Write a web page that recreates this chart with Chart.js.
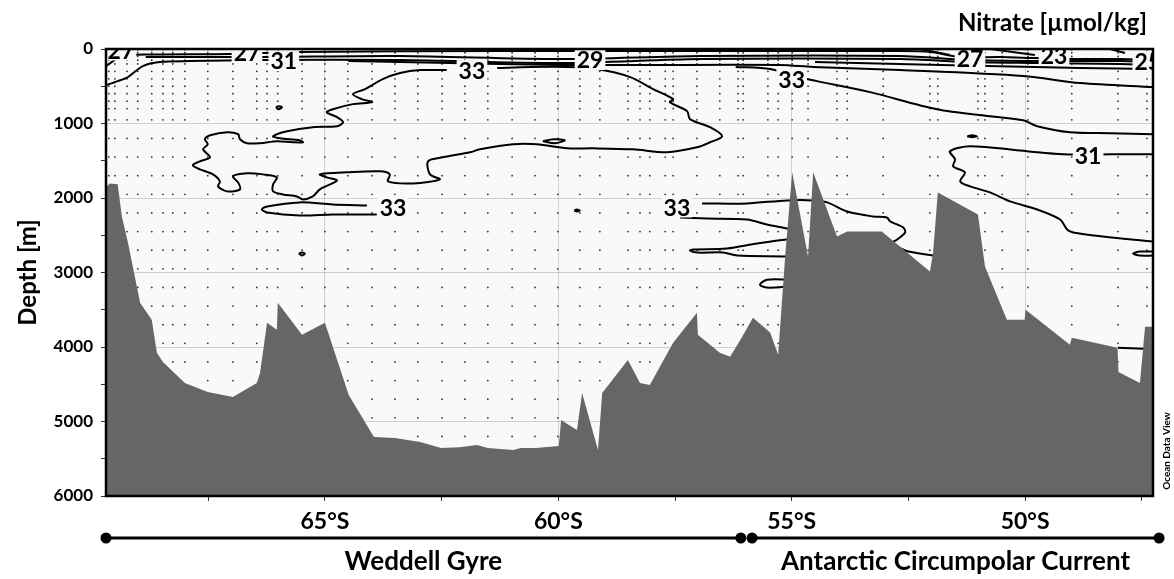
<!DOCTYPE html>
<html>
<head>
<meta charset="utf-8">
<script src="https://cdn.jsdelivr.net/npm/chart.js@4.4.1/dist/chart.umd.min.js"></script>
<style>
  html, body { margin: 0; padding: 0; background: #fff; }
  #wrap { width: 1174px; height: 579px; position: relative; }
</style>
</head>
<body>
<div id="wrap"><canvas id="section"></canvas></div>
<script>
// axes (latitude in degrees south, depth in metres)
var latTicks = [47.5, 50, 52.5, 55, 57.5, 60, 62.5, 65, 67.5];
var depthTicks = [0, 500, 1000, 1500, 2000, 2500, 3000, 3500, 4000, 4500, 5000, 5500, 6000];

// sea floor along the section
var bottomLat = [69.69,69.61,69.44,69.35,69.22,68.96,68.71,68.60,68.47,68.00,67.51,66.97,66.46,66.39,66.24,66.03,66.01,65.49,65.00,64.49,63.95,63.50,62.96,62.51,62.11,61.74,61.51,60.97,60.80,60.48,59.99,59.94,59.60,59.49,59.15,59.06,58.51,58.25,58.04,57.54,57.03,57.01,56.54,56.32,56.06,55.83,55.53,55.46,55.29,55.14,54.99,54.65,54.54,54.03,53.81,53.07,52.04,51.97,51.87,51.01,50.86,50.39,50.01,49.99,49.04,49.00,48.02,48.00,47.54,47.43,47.26];
var bottomDepth = [1857,1804,1817,2248,2598,3405,3634,4078,4200,4482,4603,4671,4482,4348,3675,3769,3405,3836,3675,4644,5209,5222,5276,5357,5344,5317,5357,5384,5357,5357,5330,4980,5115,4617,5384,4617,4173,4482,4509,3944,3540,3836,4078,4132,3863,3607,3769,3809,4105,2786,1656,2786,1656,2517,2450,2450,2988,2732,1925,2221,2921,3634,3634,3500,3971,3876,4011,4334,4482,3728,3728];

// stations and their sample levels
var stationLat = [69.63,69.50,69.24,69.01,68.71,68.47,68.26,68.00,67.51,66.97,66.46,66.24,66.01,65.49,65.00,64.51,63.99,63.50,63.01,62.49,62.00,61.51,60.99,60.50,60.01,59.54,59.11,58.51,58.25,58.04,57.71,57.54,57.03,56.54,56.15,56.04,55.51,55.29,54.99,54.65,54.03,53.81,53.04,52.04,51.87,51.01,50.86,50.49,49.94,49.00,48.01,47.39];
var stationBottom = [1800,1800,2500,3300,3600,4150,4300,4450,4600,4650,4450,3650,3400,3800,3650,4600,5200,5200,5250,5300,5300,5300,5350,5330,5300,4600,4600,4150,4450,4450,4150,3900,3500,4050,3850,3850,3750,4100,1650,2750,2500,2450,2450,2950,1900,2200,2900,3450,3600,3850,4300,3700];
var sampleDepths = [10,50,100,150,200,300,400,500,600,700,800,950,1200,1450,1700,1950,2200,2450,2700,2950,3200,3450,3700,3950,4200,4450,4700,4950,5200];

// nitrate isolines, [lat, depth]
var iso27 = [[69.69,229],[69.54,162],[69.39,94],[68.75,74],[67.04,67],[65.54,40],[61.25,27],[56.96,27],[52.68,27],[52.02,40],[51.39,108],[50.54,108],[49.79,121],[48.82,135],[47.97,135],[47.26,148]];
var iso29 = [[68.84,108],[66.39,108],[63.39,94],[59.96,135],[56.96,94],[52.68,94],[51.18,148],[49.79,162],[47.97,162],[47.26,175]];
var iso31 = [[69.69,485],[69.44,431],[69.22,377],[68.90,229],[68.54,175],[67.89,162],[66.39,148],[63.39,148],[59.96,188],[56.96,135],[52.68,135],[51.18,175],[49.79,188],[47.97,202],[47.26,215]];
var iso32 = [[64.5,160],[63.39,175],[61.25,202],[59.96,215],[58.25,215],[55.25,215],[54.54,242],[52.68,283],[50.04,363],[48.82,458],[47.26,511]];
var iso30e = [[54.5,175],[51.82,215],[49.79,242],[48.82,256],[47.26,269]];
var iso25a = [[52.25,0],[51.61,81]];
var iso25b = [[50.75,0],[49.79,81]];
var iso23 = [[48.18,0],[47.86,54]];
var iso33e = [[56.2,240],[55.46,269],[54.97,363],[54.46,431],[53.32,579],[51.89,808],[50.75,902],[50.04,956],[49.74,1036],[49.04,1117],[48.18,1131],[47.26,1144]];
var iso33blob = [[62.39,283],[62.96,283],[63.39,323],[63.76,404],[64.14,538],[64.40,606],[64.21,673],[63.99,713],[64.40,740],[64.83,808],[64.96,848],[64.74,915],[64.61,983],[64.74,1036],[65.26,1050],[65.81,1104],[66.11,1171],[65.96,1198],[65.54,1225],[65.47,1252],[65.69,1252],[66.03,1238],[66.39,1265],[66.67,1265],[66.82,1211],[66.86,1144],[67.10,1117],[67.46,1158],[67.57,1211],[67.51,1279],[67.61,1346],[67.46,1454],[67.68,1508],[67.83,1561],[67.68,1615],[67.40,1683],[67.25,1777],[67.29,1844],[67.10,1911],[66.82,1884],[66.86,1790],[66.97,1709],[66.67,1669],[66.33,1683],[66.03,1723],[66.11,1817],[66.11,1911],[65.90,1952],[65.60,1979],[65.47,2019],[65.26,1979],[65.11,1884],[64.89,1817],[64.74,1763],[64.96,1723],[65.11,1683],[64.53,1656],[63.82,1642],[63.61,1683],[63.65,1777],[63.11,1804],[62.54,1750],[62.75,1683],[62.79,1508],[62.47,1454],[61.89,1386],[61.68,1346],[60.97,1279],[60.46,1279],[59.81,1333],[59.26,1333],[58.40,1346],[57.67,1386],[57.03,1319],[56.75,1252],[56.49,1171],[56.75,1050],[57.18,942],[57.24,835],[57.61,713],[57.54,673],[57.97,538],[58.46,377],[59.17,269],[59.81,242],[60.61,242],[61.31,256]];
var iso31e = [[47.26,1413],[48.12,1413],[49.19,1413],[49.96,1373],[51.18,1306],[51.61,1373],[51.50,1481],[51.54,1575],[51.29,1656],[51.39,1777],[51.18,1844],[50.75,1925],[50.32,2046],[49.74,2154],[49.25,2288],[49.10,2423],[48.97,2463],[48.33,2517],[47.26,2584]];
var iso33w = [[64.10,2100],[64.83,2086],[65.54,2059],[66.24,2113],[66.35,2154],[66.24,2194],[65.54,2234],[64.83,2221],[63.89,2221]];
var iso33a = [[56.92,2073],[55.96,2073],[55.10,2032],[54.54,2032],[54.24,2059],[53.81,2181],[53.26,2248],[52.96,2261],[52.89,2315],[52.61,2396],[52.57,2463],[52.74,2557],[52.83,2598],[52.57,2705],[51.97,2773],[51.72,2800]];
var iso33b = [[57.39,2261],[56.81,2275],[55.96,2288],[55.53,2356],[55.10,2409],[54.82,2450]];
var iso33c = [[54.82,2557],[55.10,2557],[55.74,2611],[56.39,2679],[57.11,2692],[57.18,2705],[57.03,2732],[56.47,2732],[56.17,2773],[55.10,2786],[54.82,2800]];
var iso33d = [[55.04,3096],[55.53,3096],[55.68,3163],[55.53,3203],[55.04,3190]];
var iso33deep = [[48.01,4011],[47.47,4025]];
var eddyA = [[66.05,781],[65.99,767],[65.92,781],[65.99,808],[66.05,781]];
var eddyB = [[65.56,2746],[65.49,2732],[65.43,2746],[65.49,2773],[65.56,2746]];
var eddyC = [[60.33,1238],[60.11,1211],[59.86,1225],[60.07,1265],[60.33,1238]];
var eddyD = [[59.66,2167],[59.60,2154],[59.54,2167],[59.60,2181],[59.66,2167]];
var eddyE = [[51.24,1171],[51.14,1158],[51.03,1171],[51.14,1184],[51.24,1171]];
var eddyF = [[47.26,2719],[47.54,2719],[47.69,2746],[47.54,2773],[47.26,2773]];

// isoline labels
var labelText = ['27', '27', '31', '33', '29', '33', '27', '23', '25', '31', '33', '33'];
var labelLat = [69.37, 66.67, 65.88, 61.85, 59.32, 55.00, 51.18, 49.38, 47.37, 48.65, 63.54, 57.46];
var labelDepth = [20, 47, 162, 283, 148, 404, 135, 87, 175, 1427, 2127, 2127];

// regions under the section
var regionNames = ['Weddell Gyre', 'Antarctic Circumpolar Current'];
var regionStart = [69.69, 55.85];
var regionEnd = [56.09, 47.13];

var plotBg = '#f9f9f9';
var isolines = [iso27, iso29, iso31, iso32, iso30e, iso25a, iso25b, iso23, iso33e, iso33blob, iso31e,
  iso33w, iso33a, iso33b, iso33c, iso33d, iso33deep, eddyA, eddyB, eddyC, eddyD, eddyE, eddyF];

var samplePts = [];
stationLat.forEach(function (lat, i) {
  sampleDepths.forEach(function (d) {
    if (d < stationBottom[i]) samplePts.push({x: lat, y: d});
  });
});

var datasets = [{
  label: 'Bottom',
  data: bottomLat.map(function (v, i) { return {x: v, y: bottomDepth[i]}; }),
  fill: {value: 6000},
  backgroundColor: '#666666',
  borderColor: '#666666',
  borderWidth: 0,
  pointRadius: 0,
  tension: 0,
  order: 0
}];
isolines.forEach(function (line, k) {
  datasets.push({
    label: 'Nitrate ' + k,
    data: line.map(function (p) { return {x: p[0], y: p[1]}; }),
    borderColor: '#000',
    borderWidth: 2,
    pointRadius: 0,
    fill: false,
    tension: 0.3,
    order: 1
  });
});
datasets.push({
  label: 'Samples',
  data: samplePts,
  showLine: false,
  pointRadius: 0.9,
  pointBorderWidth: 0,
  pointBackgroundColor: '#333',
  order: 2
});

var decor = {
  id: 'decor',
  beforeDraw: function (chart) {
    var ctx = chart.ctx, a = chart.chartArea;
    ctx.save();
    ctx.fillStyle = plotBg;
    ctx.fillRect(a.left, a.top, a.right - a.left, a.bottom - a.top);
    ctx.restore();
  },
  afterDraw: function (chart) {
    var ctx = chart.ctx, a = chart.chartArea, x = chart.scales.x, y = chart.scales.y;

    // isoline labels
    ctx.save();
    ctx.beginPath();
    ctx.rect(a.left, a.top, a.right - a.left, a.bottom - a.top);
    ctx.clip();
    ctx.font = 'bold 23px Lato';
    ctx.textAlign = 'center';
    ctx.textBaseline = 'middle';
    labelText.forEach(function (t, i) {
      var px = x.getPixelForValue(labelLat[i]);
      var py = y.getPixelForValue(labelDepth[i]);
      var w = ctx.measureText(t).width + 4;
      ctx.fillStyle = plotBg;
      ctx.fillRect(px - w / 2, py - 10, w, 20);
      ctx.fillStyle = '#000';
      ctx.fillText(t, px, py + 1);
    });
    ctx.restore();

    // frame
    ctx.save();
    ctx.strokeStyle = '#000';
    ctx.lineWidth = 2.5;
    ctx.strokeRect(a.left, a.top, a.right - a.left, a.bottom - a.top);

    // variable name
    ctx.fillStyle = '#000';
    ctx.font = 'bold 24px Lato';
    ctx.textAlign = 'right';
    ctx.textBaseline = 'middle';
    ctx.fillText('Nitrate [µmol/kg]', 1147, 23);

    // watermark
    ctx.save();
    ctx.translate(1167, 451);
    ctx.rotate(-Math.PI / 2);
    ctx.font = 'bold 10px Lato';
    ctx.textAlign = 'center';
    ctx.fillText('Ocean Data View', 0, 0);
    ctx.restore();

    // regions
    var barY = 538;
    regionNames.forEach(function (name, i) {
      var x0 = x.getPixelForValue(regionStart[i]);
      var x1 = x.getPixelForValue(regionEnd[i]);
      ctx.lineWidth = 3;
      ctx.beginPath();
      ctx.moveTo(x0, barY);
      ctx.lineTo(x1, barY);
      ctx.stroke();
      [x0, x1].forEach(function (p) {
        ctx.beginPath();
        ctx.arc(p, barY, 5.5, 0, Math.PI * 2);
        ctx.fill();
      });
      ctx.font = 'bold 26px Lato';
      ctx.textAlign = 'center';
      ctx.fillText(name, (x0 + x1) / 2, 562);
    });
    ctx.restore();
  }
};

var ctx1 = document.getElementById('section').getContext('2d');
var chart1 = new Chart(ctx1, {
  type: 'line',
  data: { datasets: datasets },
  options: {
    responsive: true,
    maintainAspectRatio: false,
    animation: false,
    devicePixelRatio: 1,
    layout: { padding: { top: 49, right: 21, bottom: 0, left: 0 } },
    plugins: { legend: { display: false }, tooltip: { enabled: false } },
    scales: {
      x: {
        type: 'linear',
        reverse: true,
        min: 47.26,
        max: 69.69,
        z: 1,
        afterBuildTicks: function (s) { s.ticks = latTicks.map(function (v) { return {value: v}; }); },
        afterFit: function (s) { s.height = 83; },
        border: { display: false },
        grid: {
          color: function (c) { return c.tick && c.tick.value % 5 === 0 ? 'rgba(0,0,0,0.16)' : 'rgba(0,0,0,0)'; },
          tickColor: '#333',
          tickLength: 5,
          lineWidth: 1
        },
        ticks: {
          autoSkip: false,
          maxRotation: 0,
          padding: 7,
          color: '#000',
          font: { family: 'Lato', weight: 'bold', size: 23 },
          callback: function (v) { return v % 5 === 0 ? v + '°S' : ''; }
        }
      },
      y: {
        type: 'linear',
        reverse: true,
        min: 0,
        max: 6000,
        z: 1,
        afterBuildTicks: function (s) { s.ticks = depthTicks.map(function (v) { return {value: v}; }); },
        afterFit: function (s) { s.width = 106; },
        border: { display: false },
        grid: {
          color: function (c) { return c.tick && c.tick.value % 1000 === 0 ? 'rgba(0,0,0,0.16)' : 'rgba(0,0,0,0)'; },
          tickColor: '#333',
          tickLength: 5,
          lineWidth: 1
        },
        ticks: {
          padding: 8,
          color: '#000',
          font: { family: 'Lato', weight: 'bold', size: 17 },
          callback: function (v) { return v % 1000 === 0 ? v : ''; }
        },
        title: {
          display: true,
          text: 'Depth [m]',
          color: '#000',
          font: { family: 'Lato', weight: 'bold', size: 24 },
          padding: { top: 14, bottom: 0 }
        }
      }
    }
  },
  plugins: [decor]
});
</script>
</body>
</html>
